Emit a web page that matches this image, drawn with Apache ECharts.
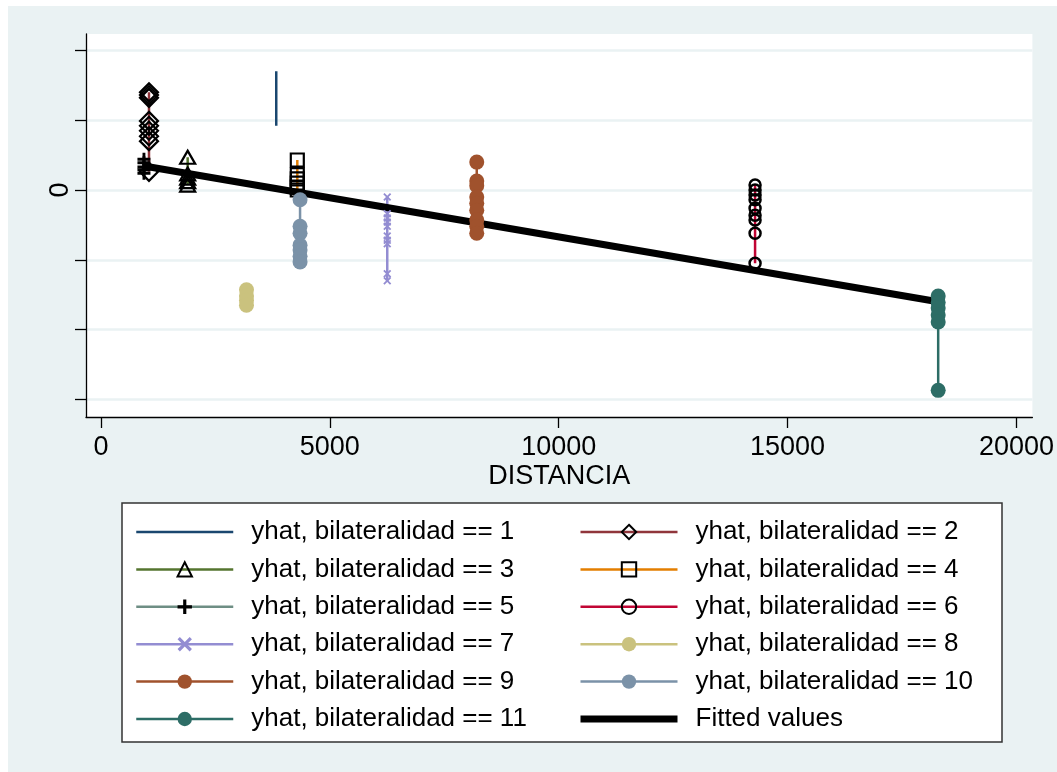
<!DOCTYPE html>
<html><head><meta charset="utf-8">
<script src="https://cdn.jsdelivr.net/npm/echarts@6/dist/echarts.min.js"></script>
<style>
html,body{margin:0;padding:0;background:#fff;}
#c{width:1057px;height:772px;background:linear-gradient(#EAF2F3,#EAF2F3) 8px 6px / 1049px 766px no-repeat #fff;}
</style></head><body><div id="c"></div>
<script>
// ---- data ----
const groupNames = ['yhat, bilateralidad == 1','yhat, bilateralidad == 2','yhat, bilateralidad == 3','yhat, bilateralidad == 4','yhat, bilateralidad == 5','yhat, bilateralidad == 6','yhat, bilateralidad == 7','yhat, bilateralidad == 8','yhat, bilateralidad == 9','yhat, bilateralidad == 10','yhat, bilateralidad == 11'];
const fitName = 'Fitted values';
const groupX = [3830, 1050, 1895, 4290, 940, 14290, 6255, 3180, 8210, 4350, 18290];
const yhat1 = [1.70, 1.58, 1.45, 1.30, 1.15, 0.92];
const yhat2 = [1.40, 1.36, 1.32, 0.99, 0.92, 0.85, 0.77, 0.70, 0.26];
const yhat3 = [0.47, 0.23, 0.17, 0.12, 0.07];
const yhat4 = [0.43, 0.22, 0.16, 0.10, 0.04, 0.00];
const yhat5 = [0.44, 0.39, 0.33, 0.29, 0.24];
const yhat6 = [0.07, 0.00, -0.07, -0.14, -0.26, -0.36, -0.43, -0.62, -1.05];
const yhat7 = [-0.10, -0.34, -0.40, -0.46, -0.52, -0.66, -0.72, -0.77, -1.20, -1.30];
const yhat8 = [-1.43, -1.52, -1.58, -1.65];
const yhat9 = [0.40, 0.13, 0.06, -0.10, -0.19, -0.29, -0.43, -0.52, -0.62];
const yhat10 = [-0.14, -0.52, -0.62, -0.79, -0.86, -0.95, -1.03];
const yhat11 = [-1.52, -1.61, -1.69, -1.79, -1.89, -2.87];
const fitX = [940, 18290];
const fitY = [0.344, -1.600];
const xTicks = [0, 5000, 10000, 15000, 20000];
const yTicks = [-3, -2, -1, 0, 1, 2];
const yLabelTicks = [0];

// ---- styles ----
const lineColors = ['#1A476F','#90353B','#55752F','#E37E00','#6E8E84','#C10534','#938DD2','#CAC27E','#A0522D','#7B92A8','#2D6D66'];
const PLUS = 'path://M3.9,0H6.1V3.9H10V6.1H6.1V10H3.9V6.1H0V3.9H3.9Z';
const CROSS = 'path://M0,1.6L1.6,0L5,3.4L8.4,0L10,1.6L6.6,5L10,8.4L8.4,10L5,6.6L1.6,10L0,8.4L3.4,5Z';
const hollow = {color:'rgba(0,0,0,0)', borderColor:'#000', borderWidth:2.2};
const markers = [
  {symbol:'none', size:0, item:{color:'rgba(0,0,0,0)'}},
  {symbol:'diamond', size:18, item:hollow},
  {symbol:'triangle', size:[15,13], item:hollow},
  {symbol:'rect', size:13, item:hollow},
  {symbol:PLUS, size:13, item:{color:'#000'}},
  {symbol:'circle', size:11, item:{color:'rgba(0,0,0,0)', borderColor:'#000', borderWidth:2.5}},
  {symbol:CROSS, size:8, item:{color:'#938DD2'}},
  {symbol:'circle', size:15, item:{color:'#CAC27E'}},
  {symbol:'circle', size:15, item:{color:'#A0522D'}},
  {symbol:'circle', size:15, item:{color:'#7B92A8'}},
  {symbol:'circle', size:15, item:{color:'#2D6D66'}}
];
const allY = [yhat1,yhat2,yhat3,yhat4,yhat5,yhat6,yhat7,yhat8,yhat9,yhat10,yhat11];

const FONT = '"Liberation Sans", Arial, Helvetica, sans-serif';
const series = allY.map((ys, i) => ({
  name: groupNames[i], type:'line',
  data: ys.map(v => [groupX[i], v]),
  symbol: markers[i].symbol, symbolSize: markers[i].size,
  showAllSymbol: true,
  lineStyle:{color:lineColors[i], width:2.5},
  itemStyle: markers[i].item,
  emphasis:{disabled:true}
}));
series.push({
  name: fitName, type:'line', data: fitX.map((x,i)=>[x, fitY[i]]),
  symbol:'none', lineStyle:{color:'#000', width:7}, itemStyle:{color:'rgba(0,0,0,0)'},
  emphasis:{disabled:true}
});

const legendCommon = {
  orient:'vertical', top:514, itemWidth:97, itemHeight:18, itemGap:11.4,
  selectedMode:false, padding:5,
  lineStyle:{width:'inherit'},
  textStyle:{fontSize:26, lineHeight:26, color:'#000', fontFamily:FONT, padding:[0,0,0,13]}
};

const chart = echarts.init(document.getElementById('c'), null, {renderer:'canvas'});
chart.setOption({
  animation:false,
  textStyle:{fontFamily:FONT},
  grid:{left:86, top:34, right:20, bottom:355, show:true, backgroundColor:'#fff', borderWidth:0, containLabel:false},
  xAxis:{
    type:'value', min:-326, max:20348,
    name:'DISTANCIA', nameLocation:'middle', nameGap:46,
    nameTextStyle:{fontSize:27, color:'#000', fontFamily:FONT},
    axisLine:{onZero:false, lineStyle:{color:'#000', width:1.3}},
    axisTick:{show:true, length:11, customValues:xTicks, lineStyle:{color:'#000', width:1.3}},
    axisLabel:{customValues:xTicks, fontSize:27, color:'#000', margin:17, fontFamily:FONT, formatter:v=>String(v)},
    splitLine:{show:false}
  },
  yAxis:{
    type:'value', min:-3.252, max:2.235,
    axisLine:{show:true, onZero:false, lineStyle:{color:'#000', width:1.3}},
    axisTick:{show:true, length:11, customValues:yTicks, lineStyle:{color:'#000', width:1.3}},
    axisLabel:{customValues:yLabelTicks, fontSize:27, color:'#000', rotate:90, margin:12, fontFamily:FONT, formatter:v=>String(v)},
    splitLine:{show:true, lineStyle:{color:'#EAF2F3', width:2.5}}
  },
  graphic:[{type:'rect', shape:{x:122, y:503, width:880, height:239}, style:{fill:'#fff', stroke:'#333', lineWidth:1.5}, z:-1, silent:true}],
  legend:[
    Object.assign({left:130, data:[groupNames[0],groupNames[2],groupNames[4],groupNames[6],groupNames[8],groupNames[10]]}, legendCommon),
    Object.assign({left:572, data:[groupNames[1],groupNames[3],groupNames[5],groupNames[7],groupNames[9],fitName]}, legendCommon)
  ],
  series: series
});
</script></body></html>
